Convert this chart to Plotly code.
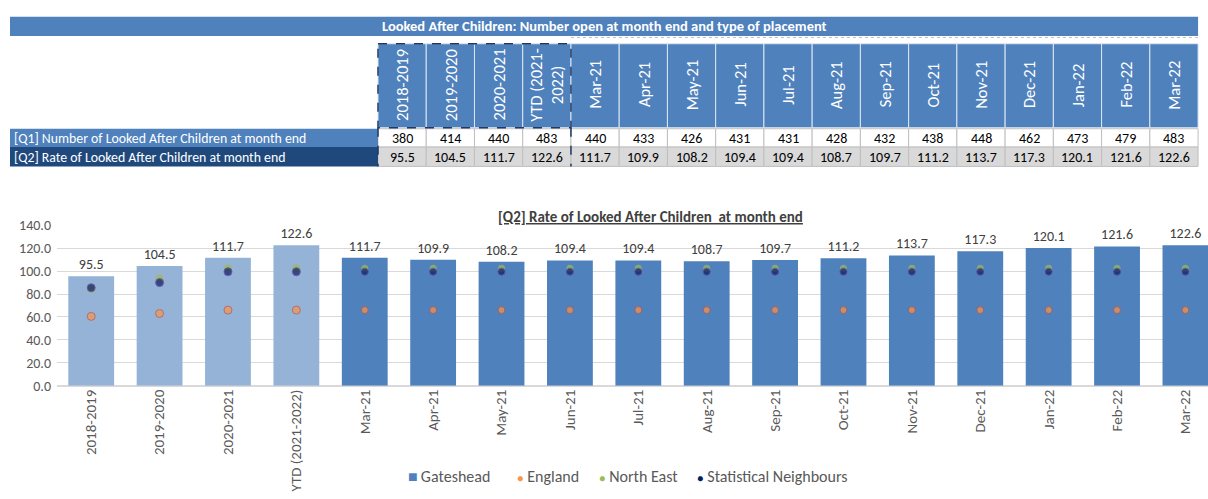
import plotly.graph_objects as go

# ---------------- data ----------------
categories = ["2018-2019", "2019-2020", "2020-2021", "YTD (2021-2022)",
              "Mar-21", "Apr-21", "May-21", "Jun-21", "Jul-21", "Aug-21",
              "Sep-21", "Oct-21", "Nov-21", "Dec-21", "Jan-22", "Feb-22", "Mar-22"]
header_labels = ["2018-2019", "2019-2020", "2020-2021", "YTD (2021-<br>2022)",
                 "Mar-21", "Apr-21", "May-21", "Jun-21", "Jul-21", "Aug-21",
                 "Sep-21", "Oct-21", "Nov-21", "Dec-21", "Jan-22", "Feb-22", "Mar-22"]
q1_number = [380, 414, 440, 483, 440, 433, 426, 431, 431, 428, 432, 438, 448, 462, 473, 479, 483]
q2_rate = [95.5, 104.5, 111.7, 122.6, 111.7, 109.9, 108.2, 109.4, 109.4, 108.7,
           109.7, 111.2, 113.7, 117.3, 120.1, 121.6, 122.6]
england = [60.5, 63.0, 66.0, 66.0, 66.0, 66.0, 66.0, 66.0, 66.0, 66.0,
           66.0, 66.0, 66.0, 66.0, 66.0, 66.0, 66.0]
north_east = [84.5, 93.5, 102.5, 102.5, 102.5, 102.5, 102.5, 102.5, 102.5, 102.5,
              102.5, 102.5, 102.5, 102.5, 102.5, 102.5, 102.5]
stat_neighbours = [85.5, 90.0, 99.5, 99.5, 99.5, 99.5, 99.5, 99.5, 99.5, 99.5,
                   99.5, 99.5, 99.5, 99.5, 99.5, 99.5, 99.5]
row_labels = ["[Q1] Number of Looked After Children at month end",
              "[Q2] Rate of Looked After Children at month end"]
series_names = ["Gateshead", "England", "North East", "Statistical Neighbours"]
table_title = "Looked After Children: Number open at month end and type of placement"
chart_title = "[Q2] Rate of Looked After Children  at month end"
n_annual = 4  # first four columns are annual figures

# ---------------- styling ----------------
FONT = "Carlito, Lato, 'Open Sans', sans-serif"
W, H = 1208, 499
BLUE = "#4F81BD"
LIGHT_BLUE = "#95B3D7"
NAVY = "#1F497D"
GRID = "#D9D9D9"
TXT = "#595959"
ORANGE, ORANGE_EDGE = "#F79646", "#C0504D"
GREEN = "#9BBB59"
DARK, DARK_EDGE = "#002060", "#7030A0"

n = len(categories)
bar_colors = [LIGHT_BLUE if i < n_annual else BLUE for i in range(n)]
msize = [8 if i < n_annual else 7 for i in range(n)]

fig = go.Figure()

fig.add_trace(go.Bar(
    x=categories, y=q2_rate, name=series_names[0],
    marker=dict(color=bar_colors, line=dict(width=0)),
    width=0.67,
    text=[f"{v:.1f}" for v in q2_rate], textposition="outside",
    textfont=dict(family=FONT, size=14, color="#404040"),
    cliponaxis=False, showlegend=False,
))
fig.add_trace(go.Scatter(
    x=categories, y=england, name=series_names[1], mode="markers",
    marker=dict(color=ORANGE, size=msize, line=dict(color=ORANGE_EDGE, width=1)),
    cliponaxis=False, showlegend=False,
))
fig.add_trace(go.Scatter(
    x=categories, y=north_east, name=series_names[2], mode="markers",
    marker=dict(color=GREEN, size=msize, line=dict(width=0)),
    cliponaxis=False, showlegend=False,
))
fig.add_trace(go.Scatter(
    x=categories, y=stat_neighbours, name=series_names[3], mode="markers",
    marker=dict(color=DARK, size=msize, line=dict(color=DARK_EDGE, width=1)),
    cliponaxis=False, showlegend=False,
))

# ---------------- table (drawn on its own hidden axes) ----------------
CW = 48.24          # pixel width of one table column
TX0 = 378           # pixel x of first data column
x2_lo = -0.5 - TX0 / CW
x2_hi = -0.5 + (W - TX0) / CW
lab_lo = -0.5 - (TX0 - 10) / CW   # label column left edge (px 10)

# y2 is in pixel units from the top
TITLE_Y = (9, 29)
HEAD_Y = (37, 124)
ROW1_Y = (125, 144)
ROW2_Y = (144, 164)

shapes = []
annos = []

def rect(x0, x1, y0, y1, fill, line_color=None, lw=0, layer="below"):
    shapes.append(dict(type="rect", xref="x2", yref="y2", x0=x0, x1=x1, y0=y0, y1=y1,
                       fillcolor=fill, layer=layer,
                       line=dict(color=line_color or fill, width=lw)))

# title bar
rect(lab_lo, n - 0.5, TITLE_Y[0], TITLE_Y[1], BLUE)
annos.append(dict(xref="x2", yref="y2", x=(lab_lo + n - 0.5) / 2, y=sum(TITLE_Y) / 2,
                  text=f"<b>{table_title}</b>", showarrow=False,
                  font=dict(family=FONT, size=14.5, color="white")))
shapes.append(dict(type="line", xref="x2", yref="y2", x0=n_annual - 0.5, x1=n - 0.5,
                   y0=TITLE_Y[1] + 1.5, y1=TITLE_Y[1] + 1.5,
                   line=dict(color="#BFBFBF", width=1, dash="dot")))

# header, rows
for i in range(n):
    rect(i - 0.5, i + 0.5, HEAD_Y[0], HEAD_Y[1], BLUE, "#DCE6F1", 1)
    annos.append(dict(xref="x2", yref="y2", x=i, y=sum(HEAD_Y) / 2 - 1,
                      text=header_labels[i], textangle=-90, showarrow=False,
                      font=dict(family=FONT, size=16.5, color="white")))
    rect(i - 0.5, i + 0.5, ROW1_Y[0], ROW1_Y[1], "white", "#BFBFBF", 1)
    rect(i - 0.5, i + 0.5, ROW2_Y[0], ROW2_Y[1], GRID, "#BFBFBF", 1)
    annos.append(dict(xref="x2", yref="y2", x=i, y=sum(ROW1_Y) / 2 + 0.5,
                      text=str(q1_number[i]), showarrow=False,
                      font=dict(family=FONT, size=14, color="black")))
    annos.append(dict(xref="x2", yref="y2", x=i, y=sum(ROW2_Y) / 2 + 0.5,
                      text=f"{q2_rate[i]:.1f}", showarrow=False,
                      font=dict(family=FONT, size=14, color="black")))

# row label cells
rect(lab_lo, -0.5, ROW1_Y[0], ROW1_Y[1], BLUE)
rect(lab_lo, -0.5, ROW2_Y[0], ROW2_Y[1], NAVY)
for lbl, ry in zip(row_labels, (ROW1_Y, ROW2_Y)):
    annos.append(dict(xref="x2", yref="y2", x=lab_lo + 1.5 / CW, y=sum(ry) / 2 + 0.5,
                      text=lbl, xanchor="left", showarrow=False,
                      font=dict(family=FONT, size=13.8, color="white")))

# dashed box around annual columns
shapes.append(dict(type="rect", xref="x2", yref="y2", x0=-0.5, x1=n_annual - 0.5,
                   y0=HEAD_Y[0], y1=HEAD_Y[1], layer="above",
                   line=dict(color="#1F3864", width=1.5, dash="dash")))
for xv in (-0.5, n_annual - 0.5):
    shapes.append(dict(type="line", xref="x2", yref="y2", x0=xv, x1=xv,
                       y0=HEAD_Y[1], y1=ROW2_Y[1], layer="above",
                       line=dict(color="#1F3864", width=1.5, dash="dash")))

# chart title
annos.append(dict(xref="paper", yref="paper", x=650 / W, y=(H - 216) / H,
                  text=f"<u><b>{chart_title}</b></u>", showarrow=False,
                  font=dict(family=FONT, size=15, color="#404040")))

# custom legend (symbol right next to the text, as in the reference)
legend_x = [406, 515, 597, 695]
legend_sym = [("■", BLUE, 16), ("●", ORANGE, 11), ("●", GREEN, 11), ("●", DARK, 11)]
legend_gap = ["\u2009", " ", " ", " "]
for name, lx, (sym, col, ss), gap in zip(series_names, legend_x, legend_sym, legend_gap):
    annos.append(dict(xref="paper", yref="paper", x=lx / W, y=(H - 485) / H,
                      xanchor="left", yanchor="middle", showarrow=False,
                      text=f"<span style='color:{col};font-size:{ss}px'>{sym}</span>{gap}{name}",
                      font=dict(family=FONT, size=16, color=TXT)))

fig.update_layout(
    width=W, height=H,
    margin=dict(l=0, r=0, t=0, b=0),
    paper_bgcolor="white", plot_bgcolor="white",
    font=dict(family=FONT, color=TXT),
    xaxis=dict(domain=[57 / W, 1], range=[-0.5, 16.33], type="category",
               tickangle=-90, tickfont=dict(family=FONT, size=15, color=TXT),
               showgrid=False, showline=False, ticks=""),
    yaxis=dict(domain=[(H - 391) / H, (H - 225) / H], range=[0, 140], dtick=20,
               tickformat=".1f", tickfont=dict(family=FONT, size=14, color=TXT),
               gridcolor=GRID, gridwidth=1, zeroline=True, zerolinecolor=GRID,
               showline=False, ticks="", ticklabelstandoff=5),
    xaxis2=dict(domain=[0, 1], range=[x2_lo, x2_hi], visible=False, anchor="y2"),
    yaxis2=dict(domain=[(H - 165) / H, (H - 5) / H], range=[165, 5], visible=False,
                anchor="x2"),
    shapes=shapes,
    annotations=annos,
    showlegend=False,
)

# invisible trace so the hidden table axes exist
fig.add_trace(go.Scatter(x=[0], y=[100], xaxis="x2", yaxis="y2", mode="markers",
                         marker=dict(opacity=0), showlegend=False, hoverinfo="skip"))

fig.write_html("out.html", config={"displayModeBar": False},
               post_script="document.body.style.margin='0';"
                           "document.documentElement.style.overflow='hidden';"
                           "document.body.style.overflow='hidden';")
